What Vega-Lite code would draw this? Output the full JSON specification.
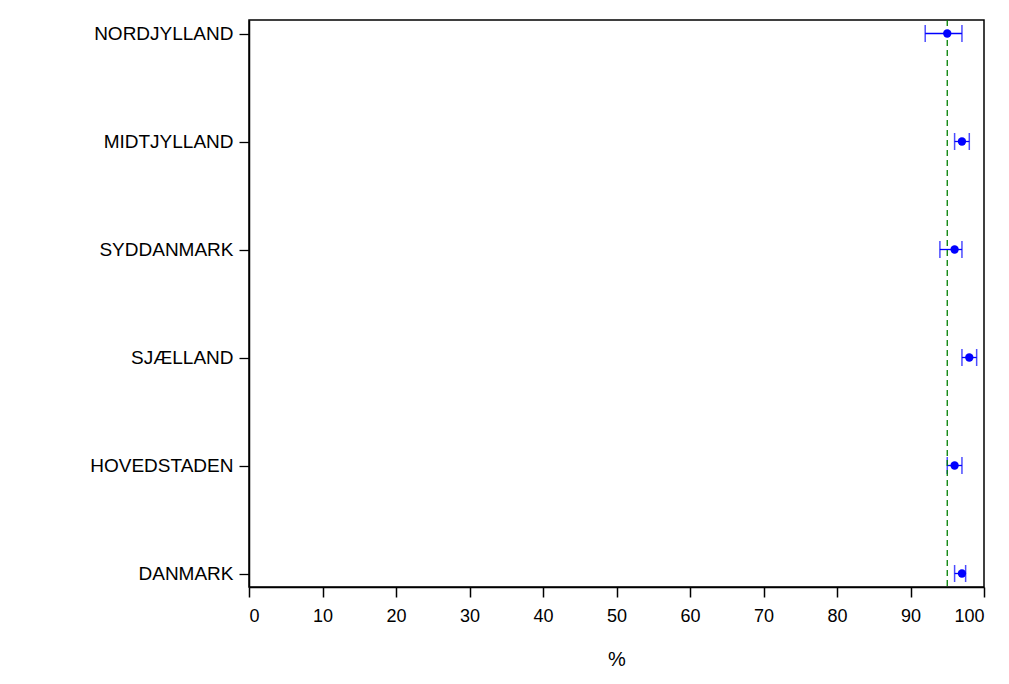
{
  "$schema": "https://vega.github.io/schema/vega-lite/v6.json",
  "autosize": {"type": "none"},
  "padding": {"left": 249, "top": 20, "right": 25, "bottom": 97},
  "width": 735,
  "height": 567,
  "background": "white",
  "config": {
    "view": {"stroke": "black", "strokeWidth": 1.5},
    "font": "Liberation Sans",
    "axis": {
      "domainColor": "black",
      "tickColor": "black",
      "labelColor": "black",
      "titleColor": "black",
      "grid": false,
      "labelFont": "Liberation Sans",
      "titleFont": "Liberation Sans"
    }
  },
  "data": {
    "values": [
      {"region": "NORDJYLLAND", "pct": 95, "lo": 92, "hi": 97},
      {"region": "MIDTJYLLAND", "pct": 97, "lo": 96, "hi": 98},
      {"region": "SYDDANMARK", "pct": 96, "lo": 94, "hi": 97},
      {"region": "SJÆLLAND", "pct": 98, "lo": 97, "hi": 99},
      {"region": "HOVEDSTADEN", "pct": 96, "lo": 95, "hi": 97},
      {"region": "DANMARK", "pct": 97, "lo": 96, "hi": 97.5}
    ]
  },
  "encoding": {
    "y": {
      "field": "region",
      "type": "nominal",
      "sort": null,
      "scale": {"type": "point", "padding": 0.125},
      "axis": {
        "title": null,
        "labelFontSize": 19,
        "tickSize": 10,
        "tickWidth": 1.3,
        "labelPadding": 6,
        "domainWidth": 1.5
      }
    }
  },
  "layer": [
    {
      "mark": {"type": "rule", "color": "#0000FF", "strokeWidth": 1.3},
      "encoding": {
        "x": {
          "field": "lo",
          "type": "quantitative",
          "scale": {"domain": [0, 100], "nice": false, "zero": true},
          "axis": {
            "title": "%",
            "values": [0, 10, 20, 30, 40, 50, 60, 70, 80, 90, 100],
            "labelFontSize": 18,
            "titleFontSize": 20,
            "titleFontWeight": "normal",
            "tickSize": 10,
            "tickWidth": 1.5,
            "domainWidth": 1.5,
            "labelPadding": 10,
            "titlePadding": 24
          }
        },
        "x2": {"field": "hi"}
      }
    },
    {
      "mark": {"type": "tick", "orient": "vertical", "color": "#0000FF", "size": 17, "thickness": 1.5},
      "encoding": {"x": {"field": "lo", "type": "quantitative"}}
    },
    {
      "mark": {"type": "tick", "orient": "vertical", "color": "#0000FF", "size": 17, "thickness": 1.5},
      "encoding": {"x": {"field": "hi", "type": "quantitative"}}
    },
    {
      "data": {"values": [{"ref": 95}]},
      "mark": {"type": "rule", "color": "#008000", "strokeWidth": 1.3, "strokeDash": [6, 4]},
      "encoding": {"x": {"field": "ref", "type": "quantitative"}, "y": null}
    },
    {
      "mark": {"type": "point", "filled": true, "color": "#0000FF", "size": 70, "opacity": 1},
      "encoding": {"x": {"field": "pct", "type": "quantitative"}}
    }
  ]
}
